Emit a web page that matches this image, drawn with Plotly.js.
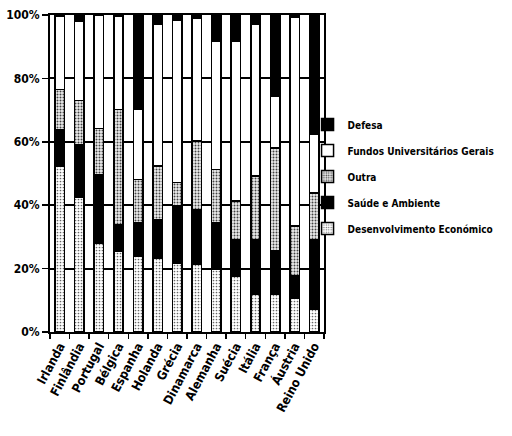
<!DOCTYPE html>
<html>
<head>
<meta charset="utf-8">
<script src="https://cdn.plot.ly/plotly-3.0.1.min.js"></script>
<style>html,body{margin:0;padding:0;background:#fff;}#chart{width:512px;height:436px;}</style>
</head>
<body>
<div id="chart"></div>
<script>
var countries = ["Irlanda","Finlândia","Portugal","Bélgica","Espanha","Holanda","Grécia","Dinamarca","Alemanha","Suécia","Itália","França","Áustria","Reino Unido"];
var desenvolvimento = [52.3, 42.6, 28.1, 25.5, 24.0, 23.4, 21.8, 21.5, 19.7, 17.6, 11.8, 11.8, 10.8, 7.1];
var saude          = [11.4, 16.5, 21.6, 8.4, 10.4, 12.1, 18.0, 17.1, 14.7, 11.6, 17.4, 13.7, 6.8, 22.1];
var outra          = [12.8, 14.0, 14.5, 36.3, 13.7, 16.8, 7.4, 21.6, 16.9, 12.1, 20.0, 32.6, 15.8, 14.7];
var fundos         = [23.0, 24.9, 35.8, 29.3, 22.1, 44.7, 51.3, 38.8, 40.4, 50.4, 47.8, 16.3, 66.0, 18.4];
var defesa         = [0.5, 2.0, 0.0, 0.5, 29.8, 3.0, 1.5, 1.0, 8.3, 8.3, 3.0, 25.6, 0.6, 37.7];
var tickVals = [0, 20, 40, 60, 80, 100];
var tickText = ["0%","20%","40%","60%","80%","100%"];

var line = {color: "#000", width: 1.5};
function tr(name, vals, marker, rank) {
  return {type: "bar", name: name, x: countries, y: vals, legendgroup: name, legendrank: rank,
          marker: Object.assign({line: line}, marker), hoverinfo: "skip"};
}
var data = [
  tr("Desenvolvimento Económico", desenvolvimento, {color: "#fff", pattern: {shape: ".", fgcolor: "#666", bgcolor: "#fff", size: 3, solidity: 0.25}}, 5),
  tr("Saúde e Ambiente", saude, {color: "#000"}, 4),
  tr("Outra", outra, {color: "#fff", pattern: {shape: ".", fgcolor: "#444", bgcolor: "#eee", size: 3, solidity: 0.35}}, 3),
  tr("Fundos Universitários Gerais", fundos, {color: "#fff"}, 2),
  tr("Defesa", defesa, {color: "#000"}, 1)
];
var fam = "DejaVu Sans Condensed, Liberation Sans Narrow, Arial Narrow, sans-serif";
var font = {family: fam, color: "#000", size: 12};
var layout = {
  width: 512, height: 436,
  margin: {l: 50, r: 177, t: 15, b: 104},
  paper_bgcolor: "#fff", plot_bgcolor: "#fff",
  barmode: "stack", bargap: 0.52,
  font: font,
  showlegend: true,
  legend: {x: 0.94, y: 0.7, xanchor: "left", yanchor: "top", traceorder: "grouped", tracegroupgap: 7,
           font: {family: fam, size: 10, color: "#000", weight: "bold"}, bgcolor: "rgba(0,0,0,0)", itemwidth: 30},
  xaxis: {type: "category", showline: true, linecolor: "#000", linewidth: 2, mirror: true,
          ticks: "outside", tickson: "boundaries", ticklen: 5, tickcolor: "#000", tickwidth: 1.5,
          tickangle: -62, tickfont: {family: fam, size: 12.5, color: "#000", weight: "bold"},
          showgrid: false},
  yaxis: {range: [0, 100], tickvals: tickVals, ticktext: tickText, showline: true, linecolor: "#000", linewidth: 2, mirror: true,
          ticks: "outside", ticklen: 6, tickcolor: "#000", tickwidth: 1.5,
          showgrid: true, gridcolor: "#000", gridwidth: 2, zeroline: false,
          tickfont: {family: fam, size: 12, color: "#000", weight: "bold"}}
};
Plotly.newPlot("chart", data, layout, {displayModeBar: false, staticPlot: true});
</script>
</body>
</html>
